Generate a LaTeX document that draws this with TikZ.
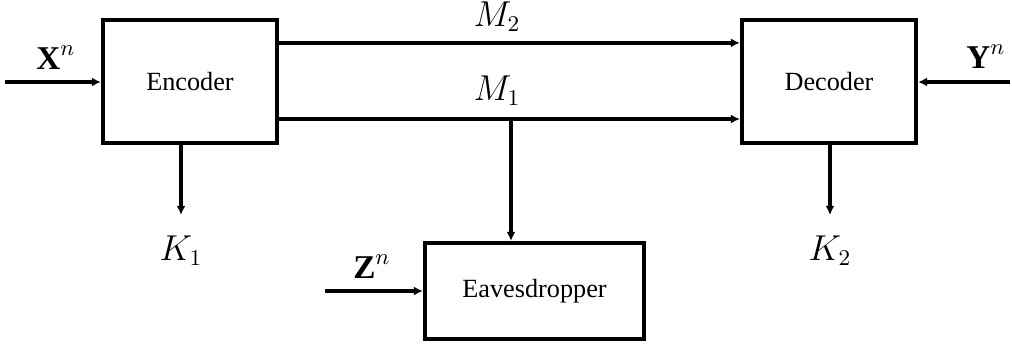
\documentclass[tikz,border=0pt]{standalone}
\usepackage{fontspec}
\setmainfont{Liberation Serif}
\usetikzlibrary{arrows.meta,positioning}
\tikzset{
  block/.style={draw, line width=1.7pt, minimum width=69.6pt, minimum height=49.2pt,
    font=\fontsize{10.5}{12}\selectfont},
  sig/.style={line width=1.7pt, -{Latex[length=3.6pt,width=3.6pt]}},
  lbl/.style={anchor=base, inner sep=0pt, font=\fontsize{13.3}{15}\selectfont},
}
\begin{document}
\begin{tikzpicture}[x=0.4pt,y=-0.4pt]
	\useasboundingbox (0,0) rectangle (1012,347);
	% blocks
	\node[block] (enc) at (190,81.5) {Encoder};
	\node[block] (dec) at (829,81.5) {Decoder};
	\node[block, minimum width=87.6pt, minimum height=38.4pt] (eve) at (534.5,291) {Eavesdropper};
	% labels
	\node[lbl] (xn) at (56,69) {$\mathbf{X}^n$};
	\node[lbl] (yn) at (986,68) {$\mathbf{Y}^n$};
	\node[lbl] (zn) at (372,278) {$\mathbf{Z}^n$};
	\node[lbl] (m2) at (497,26) {$M_2$};
	\node[lbl] (m1) at (497,100) {$M_1$};
	\node[lbl] (k1) at (181,260) {$K_1$};
	\node[lbl] (k2) at (830,260) {$K_2$};
	\coordinate (xin) at (5,82);
	\coordinate (yin) at (1010,82);
	\coordinate (zin) at (325,291);
	\coordinate (tap) at (511,119);
	% connectors
	\draw[sig] (xin) -- (xin -| enc.west);
	\draw[sig] (yin) -- (yin -| dec.east);
	\draw[sig] (zin) -- (eve.west);
	\draw[sig] ([yshift=-10pt]enc.north east) -- ([yshift=-10pt]dec.north west);
	\draw[sig] (enc.east |- tap) -- (dec.west |- tap);
	\draw[sig] (tap) -- (tap |- eve.north);
	\draw[sig] (enc.south -| k1) -- ([yshift=8pt]k1.north);
	\draw[sig] (dec.south -| k2) -- ([yshift=8pt]k2.north);
\end{tikzpicture}
\end{document}
